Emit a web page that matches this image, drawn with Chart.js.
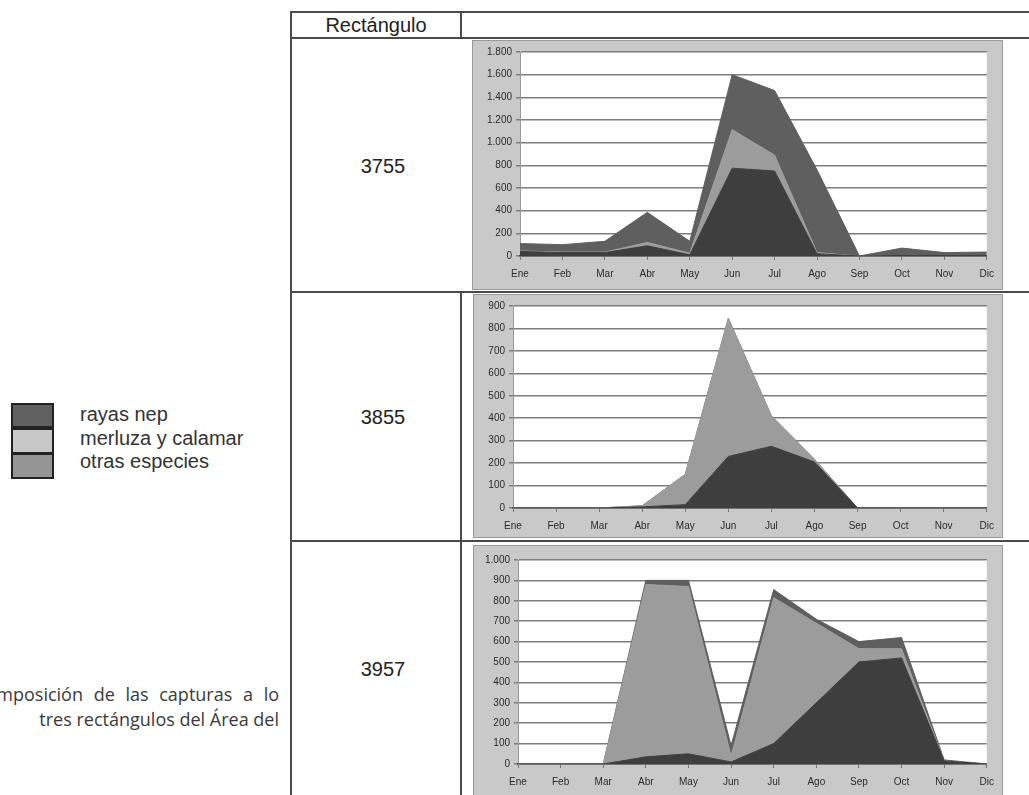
<!DOCTYPE html>
<html>
<head>
<meta charset="utf-8">
<script src="https://cdn.jsdelivr.net/npm/chart.js@4/dist/chart.umd.min.js"></script>
<style>
  html, body { margin:0; padding:0; background:#fff; }
  body { width:1029px; height:795px; overflow:hidden; position:relative; font-family:"Liberation Sans", Arial, sans-serif; }
  .ln { position:absolute; background:#4a4a4a; }
  .panel { position:absolute; background:#c9c9c9; box-sizing:border-box; border:1px solid #9a9a9a; }
  .panel canvas { position:absolute; left:0; top:0; }
  .lbl { position:absolute; font-size:20px; color:#222; text-align:center; }
  .leg { position:absolute; left:11px; width:43px; box-sizing:border-box; border:2px solid #222; }
  .legt { position:absolute; left:80px; font-size:20px; line-height:23px; color:#333; white-space:nowrap; }
  .cap { position:absolute; right:750px; font-family:"Open Sans", sans-serif; font-size:18px; line-height:25px; color:#3a3a3a; white-space:nowrap; text-align:right; }
</style>
</head>
<body>
<!-- table lines -->
<div class="ln" style="left:291px;top:11px;width:738px;height:2px;"></div>
<div class="ln" style="left:291px;top:37px;width:738px;height:2px;"></div>
<div class="ln" style="left:290px;top:11px;width:2px;height:784px;"></div>
<div class="ln" style="left:460px;top:11px;width:2px;height:27px;"></div>
<div class="ln" style="left:291px;top:291px;width:738px;height:2px;"></div>
<div class="ln" style="left:291px;top:540px;width:738px;height:2px;"></div>
<div class="ln" style="left:460px;top:292px;width:2px;height:503px;"></div>

<div class="lbl" style="left:292px;top:12px;width:168px;line-height:26px;">Rectángulo</div>
<div class="lbl" style="left:292px;top:155px;width:182px;">3755</div>
<div class="lbl" style="left:292px;top:406px;width:182px;">3855</div>
<div class="lbl" style="left:292px;top:658px;width:182px;">3957</div>

<div class="panel" style="left:472px;top:40px;width:531px;height:250px;"><canvas id="c1"></canvas></div>
<div class="panel" style="left:473px;top:294px;width:530px;height:244px;"><canvas id="c2"></canvas></div>
<div class="panel" style="left:473px;top:545px;width:530px;height:252px;"><canvas id="c3"></canvas></div>

<div id="legend"></div>

<div class="cap" style="top:682px;word-spacing:6px;">mposición de las capturas a lo</div>
<div class="cap" style="top:707px;">tres rectángulos del Área del</div>

<script>
// ---- data ----
const months = ["Ene","Feb","Mar","Abr","May","Jun","Jul","Ago","Sep","Oct","Nov","Dic"];
const seriesNames = ["rayas nep","merluza y calamar","otras especies"];

// Rectángulo 3755
const r3755_otras   = [40, 30, 30, 90, 10, 775, 750, 20, 0, 5, 5, 5];
const r3755_merluza = [5, 5, 5, 30, 15, 340, 140, 10, 0, 0, 0, 0];
const r3755_rayas   = [65, 65, 95, 265, 105, 485, 570, 730, 0, 65, 25, 30];

// Rectángulo 3855
const r3855_otras   = [0, 0, 0, 5, 15, 230, 275, 205, 0, 0, 0, 0];
const r3855_merluza = [0, 0, 0, 5, 135, 615, 135, 12, 0, 0, 0, 0];
const r3855_rayas   = [0, 0, 0, 0, 0, 0, 0, 0, 0, 0, 0, 0];

// Rectángulo 3957
const r3957_otras   = [0, 0, 0, 35, 50, 10, 100, 300, 500, 520, 15, 0];
const r3957_merluza = [0, 0, 0, 845, 820, 30, 715, 390, 65, 45, 0, 0];
const r3957_rayas   = [0, 0, 0, 20, 30, 50, 40, 20, 35, 55, 5, 0];

// y-axis settings per chart
const yMax = [1800, 900, 1000];
const yStep = [200, 100, 100];

// ---- styles ----
const fillColors = { otras:"#3e3e3e", merluza:"#9c9c9c", rayas:"#5f5f5f" };
const legendColors = ["#606060", "#c8c8c8", "#959595"];

// legend
(function(){
  const lg = document.getElementById('legend');
  const tops = [403, 428, 453];
  const hs = [25, 26, 26];
  const ty = [403, 427, 450];
  seriesNames.forEach((n,i)=>{
    const b = document.createElement('div');
    b.className='leg'; b.style.top=tops[i]+'px'; b.style.height=hs[i]+'px'; b.style.background=legendColors[i];
    lg.appendChild(b);
    const t = document.createElement('div');
    t.className='legt'; t.style.top=ty[i]+'px'; t.textContent=n;
    lg.appendChild(t);
  });
})();

function fmt(v){
  const s = String(Math.round(v));
  return s.replace(/\B(?=(\d{3})+(?!\d))/g, ".");
}

const whiteArea = {
  id:'whiteArea',
  beforeDraw(chart){
    const {ctx, chartArea:a} = chart;
    ctx.save(); ctx.fillStyle='#ffffff';
    ctx.fillRect(a.left, a.top, a.right-a.left, a.bottom-a.top);
    ctx.restore();
  }
};

const tickFont = { family:'"Liberation Sans Narrow","Liberation Sans",Arial', size:10 };

function makeChart(id, w, h, otras, merluza, rayas, max, step, geo){
  const cv = document.getElementById(id);
  cv.width = w; cv.height = h; cv.style.width=w+'px'; cv.style.height=h+'px';
  const ds = (label, data, color, fill) => ({
    label, data, backgroundColor:color, borderColor:color, borderWidth:1,
    fill, pointRadius:0, tension:0
  });
  return new Chart(cv, {
    type:'line',
    data:{ labels: months, datasets:[
      ds(seriesNames[2], otras, fillColors.otras, 'origin'),
      ds(seriesNames[1], merluza, fillColors.merluza, '-1'),
      ds(seriesNames[0], rayas, fillColors.rayas, '-1')
    ]},
    options:{
      responsive:false, animation:false, devicePixelRatio:1,
      layout:{ padding:{ left:0, right:geo.pr, top:geo.pt, bottom:0 } },
      plugins:{ legend:{display:false}, tooltip:{enabled:false} },
      scales:{
        x:{
          stacked:true, offset:false,
          grid:{ drawOnChartArea:false, drawTicks:true, tickLength:4, color:'#777', lineWidth:1 },
          border:{ color:'#444', width:1.5 },
          ticks:{ color:'#2a2a2a', font:tickFont, padding:8, maxRotation:0, autoSkip:false },
          afterFit(s){ s.height = geo.xh; }
        },
        y:{
          stacked:true, min:0, max:max,
          grid:{ color:'#7d7d7d', lineWidth:1.5, tickLength:4 },
          border:{ color:'#999', width:1 },
          ticks:{ stepSize:step, color:'#2a2a2a', font:tickFont, padding:4, callback:(v)=>fmt(v) },
          afterFit(s){ s.width = geo.yw; }
        }
      }
    },
    plugins:[whiteArea]
  });
}

makeChart('c1', 529, 248, r3755_otras, r3755_merluza, r3755_rayas, yMax[0], yStep[0], {pr:10, pt:11, xh:33, yw:47});
makeChart('c2', 528, 242, r3855_otras, r3855_merluza, r3855_rayas, yMax[1], yStep[1], {pr:14, pt:11, xh:29, yw:39});
makeChart('c3', 528, 250, r3957_otras, r3957_merluza, r3957_rayas, yMax[2], yStep[2], {pr:14, pt:14, xh:32, yw:44});
</script>
</body>
</html>
